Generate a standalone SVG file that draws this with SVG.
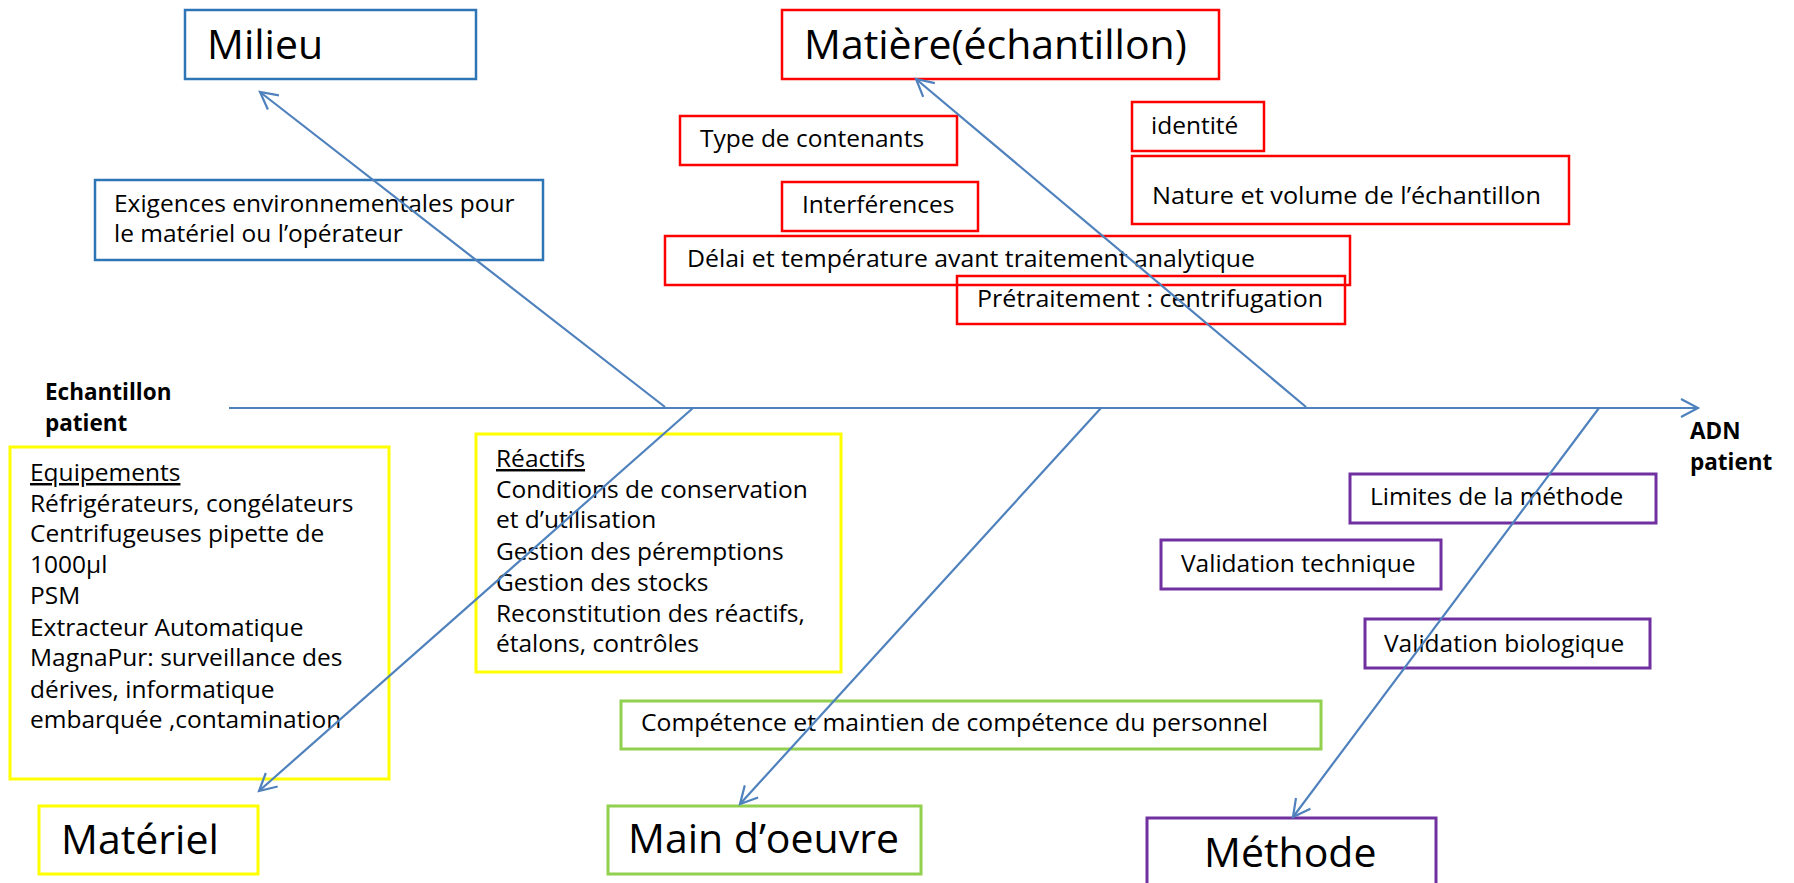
<svg xmlns="http://www.w3.org/2000/svg" width="1794" height="883" viewBox="0 0 1794 883">
<style>
text{font-family:"Open Sans","Liberation Sans",sans-serif;fill:#000}
.t{font-size:41px}
.s{font-size:24.5px}
.b{font-size:22.5px;font-weight:bold}
.u{text-decoration:underline}
rect{fill:none;stroke-width:2.5}
.blue{stroke:#2E75B6}
.red{stroke:#FF0000}
.yel{stroke:#FFFF00;stroke-width:3}
.grn{stroke:#92D050;stroke-width:3}
.pur{stroke:#7030A0;stroke-width:3}
.c{stroke:#4F81BD;stroke-width:2.2;fill:none}
</style>
<defs>
<marker id="ah" viewBox="-20 -12 24 24" refX="0" refY="0" markerWidth="24" markerHeight="24" markerUnits="userSpaceOnUse" orient="auto" overflow="visible">
<path d="M-17,-9 L0,0 L-17,9" fill="none" stroke="#4F81BD" stroke-width="2.2"/>
</marker>
</defs>
<rect width="1794" height="883" style="fill:#fff;stroke:none"/>

<g id="milieu"><rect class="blue" x="185" y="10" width="291" height="69"/><text class="t" x="207" y="59">Milieu</text></g>
<g id="exigences"><rect class="blue" x="95" y="180" width="448" height="80"/><text class="s" x="114" y="212">Exigences environnementales pour</text><text class="s" x="114" y="242">le matériel ou l’opérateur</text></g>

<g id="matiere"><rect class="red" x="782" y="10" width="437" height="69"/><text class="t" x="804" y="59">Matière(échantillon)</text></g>
<g id="type"><rect class="red" x="680" y="116" width="277" height="49"/><text class="s" x="700" y="147">Type de contenants</text></g>
<g id="interferences"><rect class="red" x="782" y="182" width="196" height="49"/><text class="s" x="802" y="213">Interférences</text></g>
<g id="delai"><rect class="red" x="665" y="236" width="685" height="49"/><text class="s" x="687" y="267" textLength="568" lengthAdjust="spacingAndGlyphs">Délai et température avant traitement analytique</text></g>
<g id="pretraitement"><rect class="red" x="957" y="276" width="388" height="48"/><text class="s" x="977" y="307" textLength="346" lengthAdjust="spacingAndGlyphs">Prétraitement : centrifugation</text></g>
<g id="identite"><rect class="red" x="1132" y="102" width="132" height="49"/><text class="s" x="1151" y="134">identité</text></g>
<g id="nature"><rect class="red" x="1132" y="156" width="437" height="68"/><text class="s" x="1152" y="204" textLength="389" lengthAdjust="spacingAndGlyphs">Nature et volume de l’échantillon</text></g>

<g id="echantillon"><text class="b" x="45" y="400">Echantillon</text><text class="b" x="45" y="431">patient</text></g>
<g id="adn"><text class="b" x="1690" y="439">ADN</text><text class="b" x="1690" y="470">patient</text></g>

<g id="equipements"><rect class="yel" x="10" y="447" width="379" height="332"/>
<text class="s u" x="30" y="481">Equipements</text>
<text class="s" x="30" y="512">Réfrigérateurs, congélateurs</text>
<text class="s" x="30" y="542">Centrifugeuses pipette de</text>
<text class="s" x="30" y="573">1000µl</text>
<text class="s" x="30" y="604">PSM</text>
<text class="s" x="30" y="636">Extracteur Automatique</text>
<text class="s" x="30" y="666">MagnaPur: surveillance des</text>
<text class="s" x="30" y="698">dérives, informatique</text>
<text class="s" x="30" y="728">embarquée ,contamination</text>
</g>
<g id="reactifs"><rect class="yel" x="476" y="434" width="365" height="238"/>
<text class="s u" x="496" y="467">Réactifs</text>
<text class="s" x="496" y="498">Conditions de conservation</text>
<text class="s" x="496" y="528">et d’utilisation</text>
<text class="s" x="496" y="560">Gestion des péremptions</text>
<text class="s" x="496" y="591">Gestion des stocks</text>
<text class="s" x="496" y="622">Reconstitution des réactifs,</text>
<text class="s" x="496" y="652">étalons, contrôles</text>
</g>

<g id="limites"><rect class="pur" x="1350" y="474" width="306" height="49"/><text class="s" x="1370" y="505">Limites de la méthode</text></g>
<g id="valtech"><rect class="pur" x="1161" y="540" width="280" height="49"/><text class="s" x="1181" y="572">Validation technique</text></g>
<g id="valbio"><rect class="pur" x="1365" y="619" width="285" height="49"/><text class="s" x="1384" y="652">Validation biologique</text></g>
<g id="competence"><rect class="grn" x="621" y="701" width="700" height="48"/><text class="s" x="641" y="731" textLength="627" lengthAdjust="spacingAndGlyphs">Compétence et maintien de compétence du personnel</text></g>

<g id="materiel"><rect class="yel" x="39" y="806" width="219" height="68"/><text class="t" x="61" y="854">Matériel</text></g>
<g id="maindoeuvre"><rect class="grn" x="608" y="806" width="313" height="68"/><text class="t" x="628" y="853">Main d’oeuvre</text></g>
<g id="methode"><rect class="pur" x="1147" y="818" width="289" height="90"/><text class="t" x="1204" y="867">Méthode</text></g>

<g id="connectors">
<line class="c" x1="229" y1="408" x2="1698" y2="408" marker-end="url(#ah)"/>
<line class="c" x1="665" y1="407" x2="260" y2="92" marker-end="url(#ah)"/>
<line class="c" x1="1306" y1="407" x2="916" y2="79" marker-end="url(#ah)"/>
<line class="c" x1="693" y1="408" x2="259" y2="791" marker-end="url(#ah)"/>
<line class="c" x1="1101" y1="408" x2="740" y2="804" marker-end="url(#ah)"/>
<line class="c" x1="1599" y1="408" x2="1293" y2="817" marker-end="url(#ah)"/>
</g>
</svg>
